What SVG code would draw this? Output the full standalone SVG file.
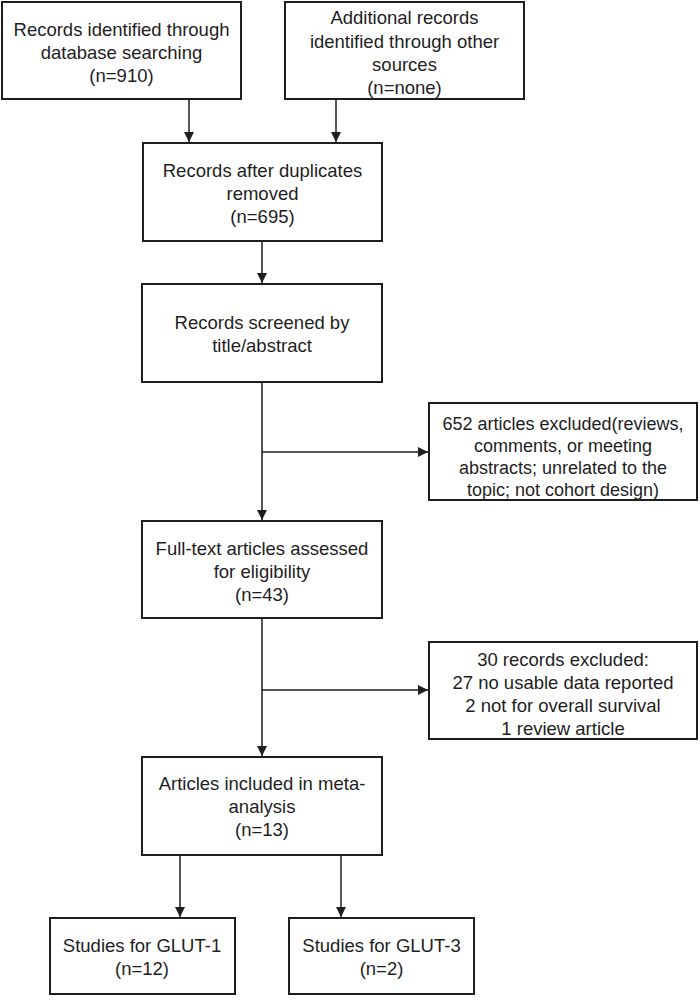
<svg xmlns="http://www.w3.org/2000/svg" width="700" height="1008" viewBox="0 0 700 1008">
<style>
.box{fill:#fff;stroke:#1e1e1e;stroke-width:2}
.t{font-family:"Liberation Sans",Arial,sans-serif;font-size:18.5px;fill:#1e1e1e;text-anchor:middle}
.s{font-size:18px}
.c{fill:none;stroke:#1e1e1e;stroke-width:1.5}
</style>
<defs>
<marker id="ah" markerUnits="userSpaceOnUse" markerWidth="10" markerHeight="10" refX="10" refY="5" orient="auto">
<path d="M0,0 L10,5 L0,10 z" fill="#1e1e1e"/>
</marker>
</defs>
<rect width="700" height="1008" fill="#fff"/>
<g id="connectors">
<line class="c" x1="189" y1="99" x2="189" y2="142" marker-end="url(#ah)"/>
<line class="c" x1="336" y1="99" x2="336" y2="142" marker-end="url(#ah)"/>
<line class="c" x1="262" y1="241" x2="262" y2="283" marker-end="url(#ah)"/>
<line class="c" x1="262" y1="382" x2="262" y2="520" marker-end="url(#ah)"/>
<line class="c" x1="262" y1="452" x2="428" y2="452" marker-end="url(#ah)"/>
<line class="c" x1="262" y1="618" x2="262" y2="756" marker-end="url(#ah)"/>
<line class="c" x1="262" y1="690" x2="428" y2="690" marker-end="url(#ah)"/>
<line class="c" x1="180" y1="855" x2="180" y2="917" marker-end="url(#ah)"/>
<line class="c" x1="341" y1="855" x2="341" y2="917" marker-end="url(#ah)"/>
</g>
<g id="n1">
<rect class="box" x="2" y="2" width="239" height="97"/>
<text class="t" x="121.5" y="36">Records identified through</text>
<text class="t" x="121.5" y="59">database searching</text>
<text class="t" x="121.5" y="82">(n=910)</text>
</g>
<g id="n2">
<rect class="box" x="285" y="2" width="239" height="97"/>
<text class="t" x="404.5" y="24">Additional records</text>
<text class="t" x="404.5" y="48">identified through other</text>
<text class="t" x="404.5" y="71">sources</text>
<text class="t" x="404.5" y="94">(n=none)</text>
</g>
<g id="n3">
<rect class="box" x="143" y="143" width="239" height="98"/>
<text class="t" x="262.5" y="177">Records after duplicates</text>
<text class="t" x="262.5" y="200">removed</text>
<text class="t" x="262.5" y="223">(n=695)</text>
</g>
<g id="n4">
<rect class="box" x="142" y="284" width="240" height="98"/>
<text class="t" x="262" y="329">Records screened by</text>
<text class="t" x="262" y="352">title/abstract</text>
</g>
<g id="n5">
<rect class="box" x="429" y="403" width="268" height="97"/>
<text class="t s" x="563" y="430">652 articles excluded(reviews,</text>
<text class="t s" x="563" y="452">comments, or meeting</text>
<text class="t s" x="563" y="474">abstracts; unrelated to the</text>
<text class="t s" x="563" y="496">topic; not cohort design)</text>
</g>
<g id="n6">
<rect class="box" x="142" y="521" width="240" height="97"/>
<text class="t" x="262" y="555">Full-text articles assessed</text>
<text class="t" x="262" y="578">for eligibility</text>
<text class="t" x="262" y="601">(n=43)</text>
</g>
<g id="n7">
<rect class="box" x="429" y="642" width="268" height="97"/>
<text class="t" x="563" y="666">30 records excluded:</text>
<text class="t" x="563" y="689">27 no usable data reported</text>
<text class="t" x="563" y="712">2 not for overall survival</text>
<text class="t" x="563" y="735">1 review article</text>
</g>
<g id="n8">
<rect class="box" x="142" y="757" width="240" height="98"/>
<text class="t" x="262" y="790">Articles included in meta-</text>
<text class="t" x="262" y="813">analysis</text>
<text class="t" x="262" y="836">(n=13)</text>
</g>
<g id="n9">
<rect class="box" x="50" y="918" width="185" height="76"/>
<text class="t" x="142" y="952">Studies for GLUT-1</text>
<text class="t" x="142" y="975">(n=12)</text>
</g>
<g id="n10">
<rect class="box" x="289" y="918" width="185" height="76"/>
<text class="t" x="381.5" y="952">Studies for GLUT-3</text>
<text class="t" x="381.5" y="975">(n=2)</text>
</g>
</svg>
